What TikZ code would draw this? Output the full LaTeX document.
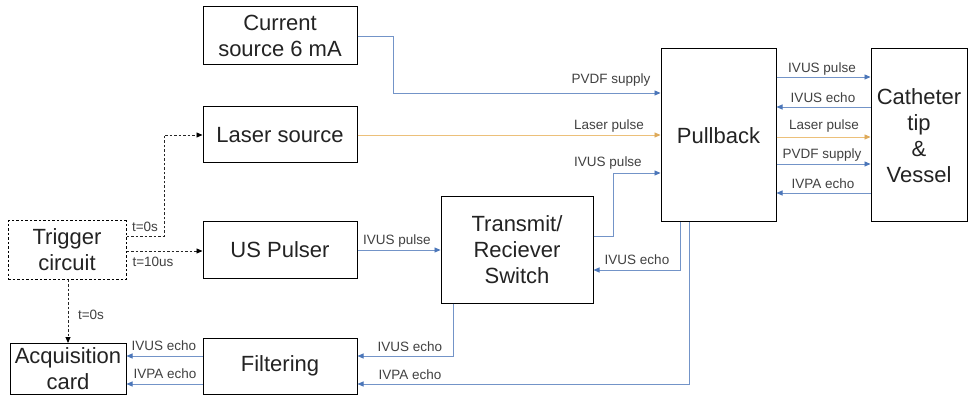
\documentclass[tikz,border=0pt]{standalone}
\usepackage{fontspec}
\setmainfont{Liberation Sans}
\usetikzlibrary{arrows.meta}
\definecolor{sigblue}{RGB}{115,148,200}
\definecolor{tipblue}{RGB}{75,118,185}
\definecolor{laserline}{RGB}{236,192,122}
\definecolor{lasertip}{RGB}{222,170,90}
\definecolor{txt}{RGB}{35,35,35}
\definecolor{lbl}{RGB}{65,65,65}

\begin{document}
\begin{tikzpicture}[x=1pt,y=-1pt,
  blk/.style={draw=black,line width=1pt,fill=white,align=center,
    font=\fontsize{22}{26}\selectfont,text=txt,inner sep=0pt},
  sig/.style={draw=sigblue,line width=0.9pt,
    -{Triangle[length=6pt,width=5pt,color=tipblue]}},
  las/.style={draw=laserline,line width=0.9pt,
    -{Triangle[length=6pt,width=5pt,color=lasertip]}},
  trg/.style={draw=black!85,line width=0.9pt,dash pattern=on 2.5pt off 2pt,
    -{Triangle[length=6pt,width=5pt,color=black]}},
  lab/.style={font=\fontsize{13.5}{15}\selectfont,text=lbl,inner sep=0pt},
]
\path[use as bounding box,fill=white] (0,0) rectangle (969,398);

% blocks
\node[blk,minimum width=154pt,minimum height=58pt] (cur) at (280,36) {Current\\source 6 mA};
\node[blk,minimum width=154pt,minimum height=56pt] (las) at (280,135) {Laser source};
\node[blk,minimum width=154pt,minimum height=57pt] (usp) at (280,250) {US Pulser};
\node[blk,minimum width=118pt,minimum height=58pt,dash pattern=on 2.5pt off 2pt] (trig) at (67,250) {Trigger\\circuit};
\node[blk,minimum width=116pt,minimum height=51pt] (acq) at (68,369) {Acquisition\\card};
\node[blk,minimum width=154pt,minimum height=56pt] (filt) at (280,366) {Filtering};
\node[blk,minimum width=152pt,minimum height=106pt] (trs) at (517,250) {Transmit/\\Reciever\\Switch};
\node[blk,minimum width=115pt,minimum height=173pt] (pb) at (718.5,135.5) {Pullback};
\node[blk,minimum width=96pt,minimum height=173pt] (cath) at (919,135.5) {Catheter\\tip\\\&\\Vessel};

% routing points
\coordinate (ja) at (393,93);
\coordinate (jb) at (613,236);
\coordinate (jc) at (613,173);
\coordinate (jd) at (680,270);
\coordinate (je) at (689,384);
\coordinate (jf) at (453,356);
\coordinate (r1) at (820,77);
\coordinate (r2) at (820,107);
\coordinate (r3) at (820,137);
\coordinate (r4) at (820,164);
\coordinate (r5) at (820,193);
\coordinate (ta) at (164,236);
\coordinate (tb) at (180,251);
\coordinate (tc) at (68,300);

% supply and pulse paths into the pullback
\draw[sig] (cur.east) -| (ja) -- (pb.west |- ja);
\draw[las] (las.east) -- (pb.west |- las.east);
\draw[sig] (trs.east |- jb) -- (jb) -- (jc) -- (pb.west |- jc);

% pullback <-> catheter
\draw[sig] (pb.east |- r1) -- (cath.west |- r1);
\draw[sig] (cath.west |- r2) -- (pb.east |- r2);
\draw[las] (pb.east |- r3) -- (cath.west |- r3);
\draw[sig] (pb.east |- r4) -- (cath.west |- r4);
\draw[sig] (cath.west |- r5) -- (pb.east |- r5);

% echo returns
\draw[sig] (pb.south -| jd) -- (jd) -- (trs.east |- jd);
\draw[sig] (pb.south -| je) -- (je) -- (filt.east |- je);
\draw[sig] (trs.south -| jf) -- (jf) -- (filt.east |- jf);
\draw[sig] (usp.east) -- (trs.west |- usp.east);
\draw[sig] (filt.west |- jf) -- (acq.east |- jf);
\draw[sig] (filt.west |- je) -- (acq.east |- je);

% trigger lines
\draw[trg] (trig.east |- ta) -- (ta) |- (las.west);
\draw[trg] (trig.east |- tb) -- (usp.west |- tb);
\draw[trg] (trig.south -| tc) -- (acq.north -| tc);

% labels
\node[lab] (l1) at (611,80) {PVDF supply};
\node[lab] (l2) at (609,126) {Laser pulse};
\node[lab] (l3) at (608,163) {IVUS pulse};
\node[lab] (l4) at (822,69) {IVUS pulse};
\node[lab] (l5) at (823,98) {IVUS echo};
\node[lab] (l6) at (824,126) {Laser pulse};
\node[lab] (l7) at (822,155) {PVDF supply};
\node[lab] (l8) at (823,184) {IVPA echo};
\node[lab] (l9) at (397,241) {IVUS pulse};
\node[lab] (l10) at (637,260) {IVUS echo};
\node[lab] (l11) at (410,347) {IVUS echo};
\node[lab] (l12) at (410,375) {IVPA echo};
\node[lab] (l13) at (164,346) {IVUS echo};
\node[lab] (l14) at (165,374) {IVPA echo};
\node[lab] (l15) at (145,227) {t=0s};
\node[lab] (l16) at (153,262) {t=10us};
\node[lab] (l17) at (91,315) {t=0s};
\end{tikzpicture}
\end{document}
